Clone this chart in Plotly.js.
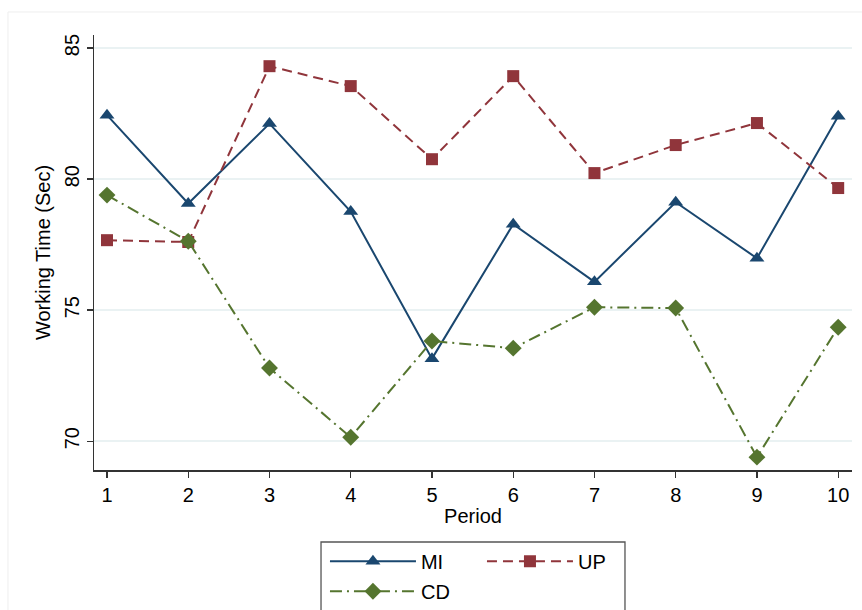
<!DOCTYPE html>
<html>
<head>
<meta charset="utf-8">
<script src="https://cdn.plot.ly/plotly-3.0.1.min.js"></script>
<style>
html,body{margin:0;padding:0;background:#fff;}
#chart{width:862px;height:610px;}
</style>
</head>
<body>
<div id="chart"></div>
<script>
const periods = [1, 2, 3, 4, 5, 6, 7, 8, 9, 10];
const miValues = [82.44, 79.07, 82.12, 78.76, 73.15, 78.28, 76.08, 79.12, 76.98, 82.40];
const upValues = [77.67, 77.60, 84.31, 83.55, 80.76, 83.93, 80.23, 81.30, 82.14, 79.66];
const cdValues = [79.39, 77.63, 72.79, 70.15, 73.82, 73.55, 75.11, 75.08, 69.39, 74.35];
const yTicks = [70, 75, 80, 85];
const seriesNames = ['MI', 'UP', 'CD'];

const FONT = 'Liberation Sans, Arial, sans-serif';

const traces = [
  {
    x: periods, y: miValues, name: seriesNames[0], type: 'scatter', mode: 'lines+markers',
    line: {color: '#1a476f', width: 2},
    marker: {symbol: 'triangle-up', size: 13, color: '#1a476f', line: {width: 0}},
    legend: 'legend'
  },
  {
    x: periods, y: upValues, name: seriesNames[1], type: 'scatter', mode: 'lines+markers',
    line: {color: '#90353b', width: 2, dash: '10px,6px'},
    marker: {symbol: 'square', size: 12, color: '#90353b', line: {width: 0}},
    legend: 'legend'
  },
  {
    x: periods, y: cdValues, name: seriesNames[2], type: 'scatter', mode: 'lines+markers',
    line: {color: '#55752f', width: 2, dash: '12px,5px,2px,5px'},
    marker: {symbol: 'diamond', size: 13, color: '#55752f', line: {width: 0}},
    legend: 'legend2'
  }
];

const layout = {
  width: 862, height: 610,
  paper_bgcolor: '#ffffff', plot_bgcolor: '#ffffff',
  margin: {l: 94, r: 10, t: 35, b: 140, autoexpand: false},
  font: {family: FONT, size: 20, color: '#000'},
  showlegend: true,
  xaxis: {
    range: [0.84, 10.17],
    tickvals: periods,
    ticktext: periods.map(String),
    ticks: 'outside', ticklen: 6, tickwidth: 1.3, tickcolor: '#333',
    showline: true, linecolor: '#333', linewidth: 1.5,
    showgrid: false, zeroline: false,
    tickfont: {family: FONT, size: 20, color: '#000'},
    title: {text: 'Period', font: {family: FONT, size: 20, color: '#000'}, standoff: 4}
  },
  yaxis: {
    range: [68.9, 85.5],
    tickvals: yTicks,
    ticks: 'outside', ticklen: 6, tickwidth: 1.3, tickcolor: '#333',
    tickangle: -90,
    showline: true, linecolor: '#333', linewidth: 1.5,
    showgrid: true, gridcolor: '#eaf2f3', gridwidth: 1.5,
    zeroline: false,
    tickfont: {family: FONT, size: 20, color: '#000'},
    title: {text: 'Working Time (Sec)', font: {family: FONT, size: 20, color: '#000'}, standoff: 4}
  },
  legend: {
    orientation: 'h', x: 0.3047, xanchor: 'left', y: -0.165, yanchor: 'top',
    entrywidth: 56, entrywidthmode: 'pixels',
    bgcolor: 'rgba(0,0,0,0)', borderwidth: 0,
    font: {family: FONT, size: 20, color: '#000'},
    itemwidth: 86, tracegroupgap: 0
  },
  legend2: {
    orientation: 'h', x: 0.3047, xanchor: 'left', y: -0.234, yanchor: 'top',
    bgcolor: 'rgba(0,0,0,0)', borderwidth: 0,
    font: {family: FONT, size: 20, color: '#000'},
    itemwidth: 86
  },
  shapes: [
    {type: 'rect', xref: 'paper', yref: 'paper', x0: 0.2995, x1: 0.7005, y0: -0.40, y1: -0.1655,
     line: {color: '#555', width: 1.3}, fillcolor: 'rgba(0,0,0,0)', layer: 'above'},
    {type: 'rect', xref: 'paper', yref: 'paper', x0: -0.1135, x1: 1.05, y0: -0.5, y1: 1.0529,
     line: {color: '#eeeeee', width: 1}, fillcolor: 'rgba(0,0,0,0)', layer: 'below'}
  ]
};

Plotly.newPlot('chart', traces, layout, {displayModeBar: false, staticPlot: true});
</script>
</body>
</html>
